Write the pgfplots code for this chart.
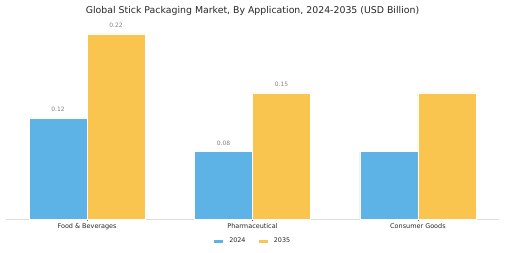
\documentclass[border=0pt]{standalone}
\usepackage{pgfplots}
\pgfplotsset{compat=1.18}
\usepackage{fontspec}
\setmainfont{DejaVu Sans}
\definecolor{cblue}{HTML}{5DB3E6}
\definecolor{cyellow}{HTML}{F9C54E}
\definecolor{axgray}{HTML}{DDDDDD}
\begin{document}
\begin{tikzpicture}
\begin{axis}[
  name=ax,
  scale only axis,
  width=493bp, height=199bp,
  xmin=-0.49, xmax=2.49,
  ymin=0, ymax=0.2365,
  ybar=0pt,
  bar width=58bp,
  axis x line*=bottom,
  axis y line=none,
  x axis line style={axgray, line width=0.6pt},
  xtick={0,1,2},
  xticklabels={Food \& Beverages, Pharmaceutical, Consumer Goods},
  xticklabel style={font=\fontsize{6.5}{7.5}\selectfont, text=black!85, yshift=1bp},
  major tick length=2bp,
  tick style={black!60},
  clip=false,
  title={Global Stick Packaging Market, By Application, 2024-2035 (USD Billion)},
  title style={font=\fontsize{9.4}{10}\selectfont, text=black!85, at={(0.5,1)}, anchor=center, yshift=3bp},
  point meta=explicit symbolic,
  nodes near coords={\pgfplotspointmeta},
  nodes near coords style={font=\fontsize{6}{7}\selectfont, text=black!50, anchor=south, yshift=2.5bp},
  legend style={draw=none, at={(0.5,-0.112)}, anchor=center, legend columns=2,
    font=\fontsize{6.4}{7.5}\selectfont, text=black!85,
    /tikz/every odd column/.append style={column sep=4bp},
    /tikz/every even column/.append style={column sep=10bp}},
  legend image code/.code={\fill[#1] (0bp,-2.2bp) rectangle (10bp,2.2bp);},
]
\addplot[fill=cblue, draw=white, line width=0.4pt] coordinates {(0,0.12)[0.12] (1,0.08)[0.08] (2,0.08)[]};
\addplot[fill=cyellow, draw=white, line width=0.4pt] coordinates {(0,0.22)[0.22] (1,0.15)[0.15] (2,0.15)[]};
\legend{2024, 2035}
\end{axis}
\pgfresetboundingbox
\path ([shift={(-6bp,-34bp)}]ax.south west) rectangle ([shift={(6bp,20bp)}]ax.north east);
\end{tikzpicture}
\end{document}
